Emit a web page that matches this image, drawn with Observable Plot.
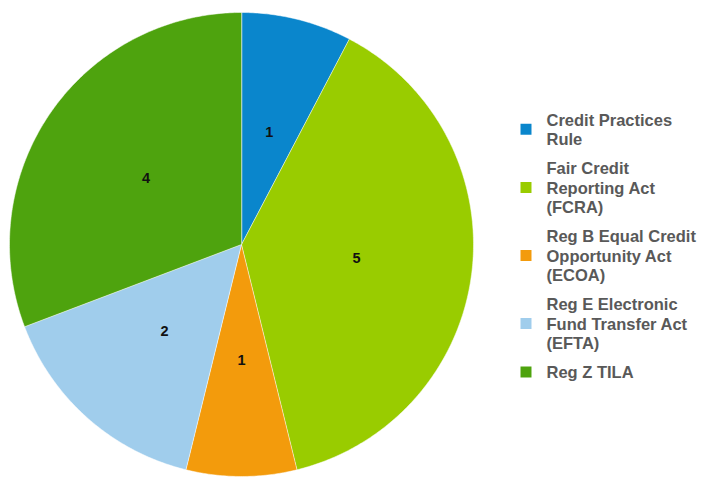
<!DOCTYPE html>
<html>
<head>
<meta charset="utf-8">
<script src="https://cdn.jsdelivr.net/npm/d3@7"></script>
<script src="https://cdn.jsdelivr.net/npm/@observablehq/plot@0.6"></script>
<style>
  html, body { margin: 0; padding: 0; background: #ffffff; }
  svg { display: block; }
</style>
</head>
<body>
<div id="chart"></div>
<script>
// ---- data ----
const categories = [
  "Credit Practices Rule",
  "Fair Credit Reporting Act (FCRA)",
  "Reg B Equal Credit Opportunity Act (ECOA)",
  "Reg E Electronic Fund Transfer Act (EFTA)",
  "Reg Z TILA"
];
const legendLabels = [
  "Credit Practices\nRule",
  "Fair Credit\nReporting Act\n(FCRA)",
  "Reg B Equal Credit\nOpportunity Act\n(ECOA)",
  "Reg E Electronic\nFund Transfer Act\n(EFTA)",
  "Reg Z TILA"
];
const counts = [1, 5, 1, 2, 4];
const colors = ["#0a86cc", "#99cc00", "#f39b0c", "#a0cdec", "#4ea30e"];

// ---- layout ----
const W = 709, H = 482;
const cx = 241, cy = 244, R = 232, labelR = 116;

const arcs = d3.pie().sort(null).value(d => d)(counts);

// slice outlines derived from pie angles
const slicePts = [];
arcs.forEach((a, i) => {
  const key = categories[i];
  slicePts.push({key, x: cx, y: cy});
  const n = Math.max(8, Math.ceil((a.endAngle - a.startAngle) / 0.01));
  for (let k = 0; k <= n; k++) {
    const t = a.startAngle + (a.endAngle - a.startAngle) * k / n;
    slicePts.push({key, x: cx + R * Math.sin(t), y: cy - R * Math.cos(t)});
  }
});

const sliceLabels = arcs.map((a, i) => {
  const m = (a.startAngle + a.endAngle) / 2;
  return {value: counts[i], x: cx + labelR * Math.sin(m), y: cy - labelR * Math.cos(m)};
});

// legend positions
const lineH = 19.5, gap = 9.5;
let legendTop = 109.25;
const legend = legendLabels.map((lab, i) => {
  const lines = lab.split("\n").length;
  const h = lines * lineH;
  const row = {key: categories[i], label: lab, y: legendTop + h / 2};
  legendTop += h + gap;
  return row;
});

const chart = Plot.plot({
  width: W,
  height: H,
  margin: 0,
  x: {domain: [0, W], range: [0, W], axis: null},
  y: {domain: [0, H], range: [0, H], axis: null},
  color: {domain: categories, range: colors},
  style: {fontFamily: "'Liberation Sans', Arial, sans-serif", background: "#ffffff"},
  marks: [
    Plot.line(slicePts, {
      x: "x", y: "y", z: "key", fill: "key",
      stroke: "#ffffff", strokeWidth: 1, strokeOpacity: 0.5,
      curve: "linear-closed"
    }),
    Plot.text(sliceLabels, {
      x: "x", y: "y", text: d => String(d.value),
      fontSize: 14.5, fontWeight: "bold", fill: "#111111"
    }),
    Plot.dot(legend, {
      x: () => 525.5, y: "y", fill: "key", symbol: "square", r: 6.2, stroke: null
    }),
    Plot.text(legend, {
      x: () => 546, y: "y", text: "label",
      textAnchor: "start", lineAnchor: "middle",
      fontSize: 16.5, fontWeight: "bold", fill: "#595959",
      lineHeight: 1.18
    })
  ]
});

document.getElementById("chart").appendChild(chart);
</script>
</body>
</html>
